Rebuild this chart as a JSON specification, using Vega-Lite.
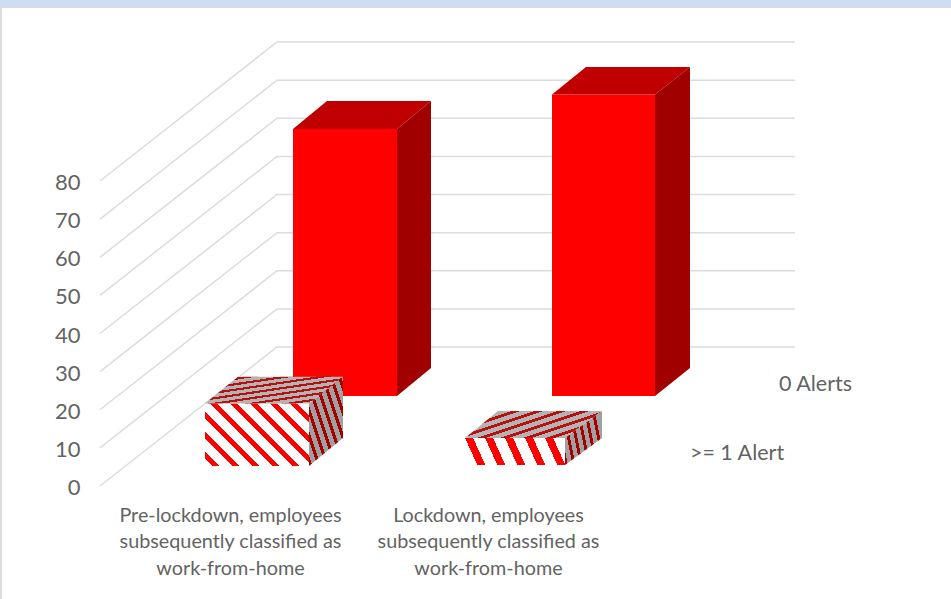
{
  "$schema": "https://vega.github.io/schema/vega-lite/v6.json",
  "width": 951,
  "height": 599,
  "padding": 0,
  "autosize": {"type": "fit", "contains": "padding"},
  "background": "#ffffff",
  "config": {"view": {"stroke": null}},
  "data": {"values": [
    {"face": "band", "across": 0, "across2": 951, "level": 125.64, "level2": 127.48},
    {"face": "edge", "across": 0, "across2": 951, "level": 125.38, "level2": 125.64},
    {"face": "edge", "across": 0, "across2": 2, "level": -29.64, "level2": 125.64},

    {"face": "grid", "bar": "g0", "across": 100, "level": 0},
    {"face": "grid", "bar": "g0", "across": 277, "level": 36.46},
    {"face": "grid", "bar": "g0", "across": 795, "level": 36.46},
    {"face": "grid", "bar": "g10", "across": 100, "level": 10},
    {"face": "grid", "bar": "g10", "across": 277, "level": 46.46},
    {"face": "grid", "bar": "g10", "across": 795, "level": 46.46},
    {"face": "grid", "bar": "g20", "across": 100, "level": 20},
    {"face": "grid", "bar": "g20", "across": 277, "level": 56.46},
    {"face": "grid", "bar": "g20", "across": 795, "level": 56.46},
    {"face": "grid", "bar": "g30", "across": 100, "level": 30},
    {"face": "grid", "bar": "g30", "across": 277, "level": 66.46},
    {"face": "grid", "bar": "g30", "across": 795, "level": 66.46},
    {"face": "grid", "bar": "g40", "across": 100, "level": 40},
    {"face": "grid", "bar": "g40", "across": 277, "level": 76.46},
    {"face": "grid", "bar": "g40", "across": 795, "level": 76.46},
    {"face": "grid", "bar": "g50", "across": 100, "level": 50},
    {"face": "grid", "bar": "g50", "across": 277, "level": 86.46},
    {"face": "grid", "bar": "g50", "across": 795, "level": 86.46},
    {"face": "grid", "bar": "g60", "across": 100, "level": 60},
    {"face": "grid", "bar": "g60", "across": 277, "level": 96.46},
    {"face": "grid", "bar": "g60", "across": 795, "level": 96.46},
    {"face": "grid", "bar": "g70", "across": 100, "level": 70},
    {"face": "grid", "bar": "g70", "across": 277, "level": 106.46},
    {"face": "grid", "bar": "g70", "across": 795, "level": 106.46},
    {"face": "grid", "bar": "g80", "across": 100, "level": 80},
    {"face": "grid", "bar": "g80", "across": 277, "level": 116.46},
    {"face": "grid", "bar": "g80", "across": 795, "level": 116.46},

    {"face": "solidFront", "bar": "pre0", "across": 293, "across2": 397, "level": 23.61, "level2": 93.64},
    {"face": "solidFront", "bar": "lock0", "across": 552, "across2": 655, "level": 23.61, "level2": 102.69},
    {"face": "solidTop", "bar": "pre0", "across": 293, "across2": 397, "level": 93.64},
    {"face": "solidTop", "bar": "pre0", "across": 327, "across2": 431, "level": 100.98},
    {"face": "solidTop", "bar": "lock0", "across": 552, "across2": 655, "level": 102.69},
    {"face": "solidTop", "bar": "lock0", "across": 586, "across2": 690, "level": 109.9},
    {"face": "solidSide", "bar": "pre0", "across": 397, "level": 93.64, "level2": 23.61},
    {"face": "solidSide", "bar": "pre0", "across": 431, "level": 100.98, "level2": 30.95},
    {"face": "solidSide", "bar": "lock0", "across": 655, "level": 102.69, "level2": 23.61},
    {"face": "solidSide", "bar": "lock0", "across": 690, "level": 109.9, "level2": 30.95},

    {"face": "preFront", "bar": "pre1", "across": 205, "across2": 309, "level": 5.25, "level2": 21.64},
    {"face": "preTop", "bar": "pre1", "across": 205, "across2": 309, "level": 21.64},
    {"face": "preTop", "bar": "pre1", "across": 238, "across2": 343, "level": 28.67},
    {"face": "preSide", "bar": "pre1", "across": 309, "level": 21.64, "level2": 5.25},
    {"face": "preSide", "bar": "pre1", "across": 343, "level": 28.67, "level2": 12.59},

    {"face": "lockFront", "bar": "lock1", "across": 465, "across2": 565, "level": 5.51, "level2": 12.59},
    {"face": "lockTop", "bar": "lock1", "across": 465, "across2": 565, "level": 12.59},
    {"face": "lockTop", "bar": "lock1", "across": 498, "across2": 602, "level": 19.67},
    {"face": "lockSide", "bar": "lock1", "across": 565, "level": 12.59, "level2": 5.51},
    {"face": "lockSide", "bar": "lock1", "across": 602, "level": 19.67, "level2": 12.59},

    {"face": "category", "across": 230.5, "level": -7.86, "label": "Pre-lockdown, employees\nsubsequently classified as\nwork-from-home"},
    {"face": "category", "across": 488.5, "level": -7.86, "label": "Lockdown, employees\nsubsequently classified as\nwork-from-home"},
    {"face": "series", "across": 815.5, "level": 26.5, "label": "0 Alerts"},
    {"face": "series", "across": 737, "level": 8.4, "label": ">= 1 Alert"}
  ]},
  "encoding": {
    "x": {"field": "across", "type": "quantitative", "axis": null, "scale": {"domain": [0, 951], "nice": false, "zero": false}},
    "y": {
      "field": "level", "type": "quantitative",
      "scale": {"domain": [-29.64, 127.48], "nice": false, "zero": false},
      "axis": {
        "title": null, "values": [0, 10, 20, 30, 40, 50, 60, 70, 80], "grid": false, "domain": false, "ticks": false,
        "offset": -80, "labelPadding": 0, "labelOffset": 1.5, "labelFont": "Lato", "labelFontSize": 22, "labelColor": "#636363"
      }
    }
  },
  "layer": [
    {
      "transform": [{"filter": "datum.face === 'band'"}],
      "mark": {"type": "rect", "color": "#cddef2"},
      "encoding": {"x2": {"field": "across2"}, "y2": {"field": "level2"}}
    },
    {
      "transform": [{"filter": "datum.face === 'edge'"}],
      "mark": {"type": "rect", "color": "#dcdcdc"},
      "encoding": {"x2": {"field": "across2"}, "y2": {"field": "level2"}}
    },
    {
      "transform": [{"filter": "datum.face === 'grid'"}],
      "mark": {"type": "line", "color": "#dcdcdc", "strokeWidth": 1.5},
      "encoding": {"detail": {"field": "bar"}}
    },
    {
      "transform": [{"filter": "datum.face === 'solidFront'"}],
      "mark": {"type": "rect", "color": "#ff0000"},
      "encoding": {"x2": {"field": "across2"}, "y2": {"field": "level2"}}
    },
    {
      "transform": [{"filter": "datum.face === 'solidTop'"}],
      "mark": {"type": "area", "orient": "horizontal", "color": "#c00000"},
      "encoding": {"x2": {"field": "across2"}, "detail": {"field": "bar"}}
    },
    {
      "transform": [{"filter": "datum.face === 'solidSide'"}],
      "mark": {"type": "area", "orient": "vertical", "color": "#a00000"},
      "encoding": {"y2": {"field": "level2"}, "detail": {"field": "bar"}}
    },
    {
      "transform": [{"filter": "datum.face === 'preFront'"}],
      "mark": {"type": "rect", "color": {"gradient": "linear", "x1": -0.0887, "y1": 1.0529, "x2": 1.6139, "y2": 0.0379, "stops": [
        {"offset": 0, "color": "#ff0000"}, {"offset": 0.02917, "color": "#ff0000"}, {"offset": 0.02917, "color": "#ffffff"}, {"offset": 0.08333, "color": "#ffffff"},
        {"offset": 0.08333, "color": "#ff0000"}, {"offset": 0.1125, "color": "#ff0000"}, {"offset": 0.1125, "color": "#ffffff"}, {"offset": 0.16667, "color": "#ffffff"},
        {"offset": 0.16667, "color": "#ff0000"}, {"offset": 0.19583, "color": "#ff0000"}, {"offset": 0.19583, "color": "#ffffff"}, {"offset": 0.25, "color": "#ffffff"},
        {"offset": 0.25, "color": "#ff0000"}, {"offset": 0.27917, "color": "#ff0000"}, {"offset": 0.27917, "color": "#ffffff"}, {"offset": 0.33333, "color": "#ffffff"},
        {"offset": 0.33333, "color": "#ff0000"}, {"offset": 0.3625, "color": "#ff0000"}, {"offset": 0.3625, "color": "#ffffff"}, {"offset": 0.41667, "color": "#ffffff"},
        {"offset": 0.41667, "color": "#ff0000"}, {"offset": 0.44583, "color": "#ff0000"}, {"offset": 0.44583, "color": "#ffffff"}, {"offset": 0.5, "color": "#ffffff"},
        {"offset": 0.5, "color": "#ff0000"}, {"offset": 0.52917, "color": "#ff0000"}, {"offset": 0.52917, "color": "#ffffff"}, {"offset": 0.58333, "color": "#ffffff"},
        {"offset": 0.58333, "color": "#ff0000"}, {"offset": 0.6125, "color": "#ff0000"}, {"offset": 0.6125, "color": "#ffffff"}, {"offset": 0.66667, "color": "#ffffff"},
        {"offset": 0.66667, "color": "#ff0000"}, {"offset": 0.69583, "color": "#ff0000"}, {"offset": 0.69583, "color": "#ffffff"}, {"offset": 0.75, "color": "#ffffff"},
        {"offset": 0.75, "color": "#ff0000"}, {"offset": 0.77917, "color": "#ff0000"}, {"offset": 0.77917, "color": "#ffffff"}, {"offset": 1, "color": "#ffffff"}
      ]}},
      "encoding": {"x2": {"field": "across2"}, "y2": {"field": "level2"}}
    },
    {
      "transform": [{"filter": "datum.face === 'preTop'"}],
      "mark": {"type": "area", "orient": "horizontal", "color": {"gradient": "linear", "x1": 0, "y1": 0, "x2": 1.181, "y2": 1.54, "stops": [
        {"offset": 0, "color": "#b81010"}, {"offset": 0.03333, "color": "#b81010"}, {"offset": 0.03333, "color": "#b4b4b4"}, {"offset": 0.08333, "color": "#b4b4b4"},
        {"offset": 0.08333, "color": "#b81010"}, {"offset": 0.11667, "color": "#b81010"}, {"offset": 0.11667, "color": "#b4b4b4"}, {"offset": 0.16667, "color": "#b4b4b4"},
        {"offset": 0.16667, "color": "#b81010"}, {"offset": 0.2, "color": "#b81010"}, {"offset": 0.2, "color": "#b4b4b4"}, {"offset": 0.25, "color": "#b4b4b4"},
        {"offset": 0.25, "color": "#b81010"}, {"offset": 0.28333, "color": "#b81010"}, {"offset": 0.28333, "color": "#b4b4b4"}, {"offset": 0.33333, "color": "#b4b4b4"},
        {"offset": 0.33333, "color": "#b81010"}, {"offset": 0.36667, "color": "#b81010"}, {"offset": 0.36667, "color": "#b4b4b4"}, {"offset": 0.41667, "color": "#b4b4b4"},
        {"offset": 0.41667, "color": "#b81010"}, {"offset": 0.45, "color": "#b81010"}, {"offset": 0.45, "color": "#b4b4b4"}, {"offset": 0.5, "color": "#b4b4b4"},
        {"offset": 0.5, "color": "#b81010"}, {"offset": 0.53333, "color": "#b81010"}, {"offset": 0.53333, "color": "#b4b4b4"}, {"offset": 0.58333, "color": "#b4b4b4"},
        {"offset": 0.58333, "color": "#b81010"}, {"offset": 0.61667, "color": "#b81010"}, {"offset": 0.61667, "color": "#b4b4b4"}, {"offset": 0.66667, "color": "#b4b4b4"},
        {"offset": 0.66667, "color": "#b81010"}, {"offset": 0.7, "color": "#b81010"}, {"offset": 0.7, "color": "#b4b4b4"}, {"offset": 0.75, "color": "#b4b4b4"},
        {"offset": 0.75, "color": "#b81010"}, {"offset": 0.78333, "color": "#b81010"}, {"offset": 0.78333, "color": "#b4b4b4"}, {"offset": 1, "color": "#b4b4b4"}
      ]}},
      "encoding": {"x2": {"field": "across2"}}
    },
    {
      "transform": [{"filter": "datum.face === 'preSide'"}],
      "mark": {"type": "area", "orient": "vertical", "color": {"gradient": "linear", "x1": 0, "y1": 1, "x2": 1.668, "y2": -0.457, "stops": [
        {"offset": 0, "color": "#a50000"}, {"offset": 0.03333, "color": "#a50000"}, {"offset": 0.03333, "color": "#a0a0a0"}, {"offset": 0.08333, "color": "#a0a0a0"},
        {"offset": 0.08333, "color": "#a50000"}, {"offset": 0.11667, "color": "#a50000"}, {"offset": 0.11667, "color": "#a0a0a0"}, {"offset": 0.16667, "color": "#a0a0a0"},
        {"offset": 0.16667, "color": "#a50000"}, {"offset": 0.2, "color": "#a50000"}, {"offset": 0.2, "color": "#a0a0a0"}, {"offset": 0.25, "color": "#a0a0a0"},
        {"offset": 0.25, "color": "#a50000"}, {"offset": 0.28333, "color": "#a50000"}, {"offset": 0.28333, "color": "#a0a0a0"}, {"offset": 0.33333, "color": "#a0a0a0"},
        {"offset": 0.33333, "color": "#a50000"}, {"offset": 0.36667, "color": "#a50000"}, {"offset": 0.36667, "color": "#a0a0a0"}, {"offset": 0.41667, "color": "#a0a0a0"},
        {"offset": 0.41667, "color": "#a50000"}, {"offset": 0.45, "color": "#a50000"}, {"offset": 0.45, "color": "#a0a0a0"}, {"offset": 0.5, "color": "#a0a0a0"},
        {"offset": 0.5, "color": "#a50000"}, {"offset": 0.53333, "color": "#a50000"}, {"offset": 0.53333, "color": "#a0a0a0"}, {"offset": 0.58333, "color": "#a0a0a0"},
        {"offset": 0.58333, "color": "#a50000"}, {"offset": 0.61667, "color": "#a50000"}, {"offset": 0.61667, "color": "#a0a0a0"}, {"offset": 0.66667, "color": "#a0a0a0"},
        {"offset": 0.66667, "color": "#a50000"}, {"offset": 0.7, "color": "#a50000"}, {"offset": 0.7, "color": "#a0a0a0"}, {"offset": 1, "color": "#a0a0a0"}
      ]}},
      "encoding": {"y2": {"field": "level2"}}
    },
    {
      "transform": [{"filter": "datum.face === 'lockFront'"}],
      "mark": {"type": "rect", "color": {"gradient": "linear", "x1": -0.0758, "y1": 1.0093, "x2": 2.288, "y2": 0.7193, "stops": [
        {"offset": 0, "color": "#ff0000"}, {"offset": 0.03333, "color": "#ff0000"}, {"offset": 0.03333, "color": "#ffffff"}, {"offset": 0.08333, "color": "#ffffff"},
        {"offset": 0.08333, "color": "#ff0000"}, {"offset": 0.11667, "color": "#ff0000"}, {"offset": 0.11667, "color": "#ffffff"}, {"offset": 0.16667, "color": "#ffffff"},
        {"offset": 0.16667, "color": "#ff0000"}, {"offset": 0.2, "color": "#ff0000"}, {"offset": 0.2, "color": "#ffffff"}, {"offset": 0.25, "color": "#ffffff"},
        {"offset": 0.25, "color": "#ff0000"}, {"offset": 0.28333, "color": "#ff0000"}, {"offset": 0.28333, "color": "#ffffff"}, {"offset": 0.33333, "color": "#ffffff"},
        {"offset": 0.33333, "color": "#ff0000"}, {"offset": 0.36667, "color": "#ff0000"}, {"offset": 0.36667, "color": "#ffffff"}, {"offset": 0.41667, "color": "#ffffff"},
        {"offset": 0.41667, "color": "#ff0000"}, {"offset": 0.45, "color": "#ff0000"}, {"offset": 0.45, "color": "#ffffff"}, {"offset": 1, "color": "#ffffff"}
      ]}},
      "encoding": {"x2": {"field": "across2"}, "y2": {"field": "level2"}}
    },
    {
      "transform": [{"filter": "datum.face === 'lockTop'"}],
      "mark": {"type": "area", "orient": "horizontal", "color": {"gradient": "linear", "x1": 0, "y1": 0, "x2": 1.493, "y2": 0.883, "stops": [
        {"offset": 0, "color": "#b81010"}, {"offset": 0.03333, "color": "#b81010"}, {"offset": 0.03333, "color": "#b4b4b4"}, {"offset": 0.08333, "color": "#b4b4b4"},
        {"offset": 0.08333, "color": "#b81010"}, {"offset": 0.11667, "color": "#b81010"}, {"offset": 0.11667, "color": "#b4b4b4"}, {"offset": 0.16667, "color": "#b4b4b4"},
        {"offset": 0.16667, "color": "#b81010"}, {"offset": 0.2, "color": "#b81010"}, {"offset": 0.2, "color": "#b4b4b4"}, {"offset": 0.25, "color": "#b4b4b4"},
        {"offset": 0.25, "color": "#b81010"}, {"offset": 0.28333, "color": "#b81010"}, {"offset": 0.28333, "color": "#b4b4b4"}, {"offset": 0.33333, "color": "#b4b4b4"},
        {"offset": 0.33333, "color": "#b81010"}, {"offset": 0.36667, "color": "#b81010"}, {"offset": 0.36667, "color": "#b4b4b4"}, {"offset": 0.41667, "color": "#b4b4b4"},
        {"offset": 0.41667, "color": "#b81010"}, {"offset": 0.45, "color": "#b81010"}, {"offset": 0.45, "color": "#b4b4b4"}, {"offset": 0.5, "color": "#b4b4b4"},
        {"offset": 0.5, "color": "#b81010"}, {"offset": 0.53333, "color": "#b81010"}, {"offset": 0.53333, "color": "#b4b4b4"}, {"offset": 0.58333, "color": "#b4b4b4"},
        {"offset": 0.58333, "color": "#b81010"}, {"offset": 0.61667, "color": "#b81010"}, {"offset": 0.61667, "color": "#b4b4b4"}, {"offset": 0.66667, "color": "#b4b4b4"},
        {"offset": 0.66667, "color": "#b81010"}, {"offset": 0.7, "color": "#b81010"}, {"offset": 0.7, "color": "#b4b4b4"}, {"offset": 1, "color": "#b4b4b4"}
      ]}},
      "encoding": {"x2": {"field": "across2"}}
    },
    {
      "transform": [{"filter": "datum.face === 'lockSide'"}],
      "mark": {"type": "area", "orient": "vertical", "color": {"gradient": "linear", "x1": 0, "y1": 1, "x2": 2.241, "y2": 0.346, "stops": [
        {"offset": 0, "color": "#a50000"}, {"offset": 0.03333, "color": "#a50000"}, {"offset": 0.03333, "color": "#a0a0a0"}, {"offset": 0.08333, "color": "#a0a0a0"},
        {"offset": 0.08333, "color": "#a50000"}, {"offset": 0.11667, "color": "#a50000"}, {"offset": 0.11667, "color": "#a0a0a0"}, {"offset": 0.16667, "color": "#a0a0a0"},
        {"offset": 0.16667, "color": "#a50000"}, {"offset": 0.2, "color": "#a50000"}, {"offset": 0.2, "color": "#a0a0a0"}, {"offset": 0.25, "color": "#a0a0a0"},
        {"offset": 0.25, "color": "#a50000"}, {"offset": 0.28333, "color": "#a50000"}, {"offset": 0.28333, "color": "#a0a0a0"}, {"offset": 0.33333, "color": "#a0a0a0"},
        {"offset": 0.33333, "color": "#a50000"}, {"offset": 0.36667, "color": "#a50000"}, {"offset": 0.36667, "color": "#a0a0a0"}, {"offset": 0.41667, "color": "#a0a0a0"},
        {"offset": 0.41667, "color": "#a50000"}, {"offset": 0.45, "color": "#a50000"}, {"offset": 0.45, "color": "#a0a0a0"}, {"offset": 1, "color": "#a0a0a0"}
      ]}},
      "encoding": {"y2": {"field": "level2"}}
    },
    {
      "transform": [{"filter": "datum.face === 'category'"}],
      "mark": {"type": "text", "font": "Lato", "fontSize": 19.8, "color": "#636363", "align": "center", "baseline": "middle", "lineBreak": "\n", "lineHeight": 26.5},
      "encoding": {"text": {"field": "label"}}
    },
    {
      "transform": [{"filter": "datum.face === 'series'"}],
      "mark": {"type": "text", "font": "Lato", "fontSize": 21.5, "color": "#636363", "align": "center", "baseline": "middle"},
      "encoding": {"text": {"field": "label"}}
    }
  ]
}
